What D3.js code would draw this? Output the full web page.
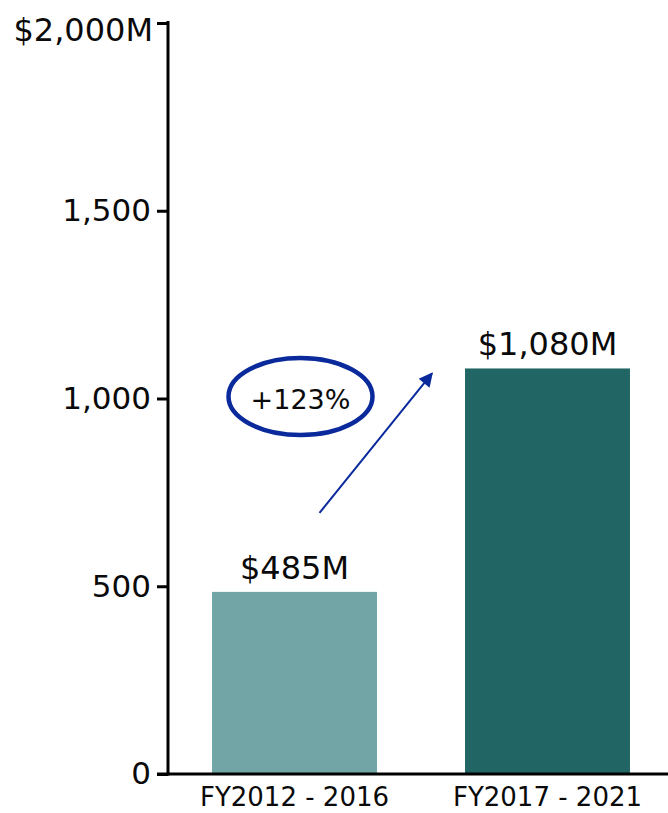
<!DOCTYPE html>
<html>
<head>
<meta charset="utf-8">
<script src="https://cdn.jsdelivr.net/npm/d3@7"></script>
<style>
  html, body { margin: 0; padding: 0; background: #fff; }
  svg { display: block; font-family: "DejaVu Sans", Verdana, sans-serif; }
</style>
</head>
<body>
<svg id="chart" width="668" height="813"></svg>
<script>
// Funding totals by five-year period (millions of dollars)
const categories = ["FY2012 - 2016", "FY2017 - 2021"];
const values = [485, 1080];
const valueLabels = ["$485M", "$1,080M"];
const barColors = ["#72a6a6", "#216664"];
const tickValues = [0, 500, 1000, 1500, 2000];
const tickLabels = ["0", "500", "1,000", "1,500", "$2,000M"];
const growthLabel = "+123%";

const width = 668, height = 813;
const margin = { top: 23, right: 0, bottom: 39, left: 168 };

const svg = d3.select("#chart");

const x = d3.scaleBand()
  .domain(categories)
  .range([margin.left, margin.left + 506])
  .paddingInner(0.348)
  .paddingOuter(0.174);

const y = d3.scaleLinear()
  .domain([0, 2000])
  .range([height - margin.bottom, margin.top]);

// Bars
svg.append("g")
  .selectAll("rect")
  .data(values)
  .join("rect")
  .attr("x", (d, i) => x(categories[i]))
  .attr("y", d => y(d))
  .attr("width", x.bandwidth())
  .attr("height", d => y(0) - y(d))
  .attr("fill", (d, i) => barColors[i]);

// Value labels above bars
svg.append("g")
  .selectAll("text")
  .data(values)
  .join("text")
  .attr("x", (d, i) => x(categories[i]) + x.bandwidth() / 2)
  .attr("y", d => y(d) - 13)
  .attr("text-anchor", "middle")
  .attr("font-size", 32)
  .attr("fill", "#0a0a0a")
  .text((d, i) => valueLabels[i]);

// Y axis
const yAxis = d3.axisLeft(y)
  .tickValues(tickValues)
  .tickFormat((d, i) => tickLabels[i])
  .tickSize(11)
  .tickPadding(6);

const gy = svg.append("g")
  .attr("transform", `translate(${margin.left},0)`)
  .call(yAxis);
gy.select(".domain").attr("stroke", "#000").attr("stroke-width", 3)
  .attr("d", `M0,${y(2000) - 2}V${y(0) + 1.5}`);
gy.selectAll(".tick line").attr("stroke", "#000").attr("stroke-width", 3);
gy.selectAll(".tick text")
  .attr("font-size", 31)
  .attr("font-family", "DejaVu Sans, Verdana, sans-serif")
  .attr("fill", "#0a0a0a");
// Top label carries the unit and sits just below its tick
gy.selectAll(".tick text")
  .filter(d => d === 2000)
  .attr("font-size", 32)
  .attr("dx", 2)
  .attr("dy", "0.55em");

// X axis
const xAxis = d3.axisBottom(x).tickSize(0).tickPadding(14);
const gx = svg.append("g")
  .attr("transform", `translate(0,${y(0)})`)
  .call(xAxis);
gx.select(".domain").attr("stroke", "#000").attr("stroke-width", 3)
  .attr("d", `M${margin.left - 11},0H${width}`);
gx.selectAll(".tick text")
  .attr("font-size", 26)
  .attr("font-family", "DejaVu Sans, Verdana, sans-serif")
  .attr("fill", "#0a0a0a");

// Growth annotation: ellipse with percentage
const annoX = x(categories[0]) + x.bandwidth() / 2 + 6;
const annoY = y(1000) - 2;
svg.append("ellipse")
  .attr("cx", annoX)
  .attr("cy", annoY)
  .attr("rx", 72)
  .attr("ry", 38.5)
  .attr("fill", "none")
  .attr("stroke", "#0a2a9c")
  .attr("stroke-width", 4.5);
svg.append("text")
  .attr("x", annoX)
  .attr("y", annoY + 12)
  .attr("text-anchor", "middle")
  .attr("font-size", 27)
  .attr("fill", "#0a0a0a")
  .text(growthLabel);

// Arrow from first bar toward second bar
svg.append("defs").append("marker")
  .attr("id", "arrowhead")
  .attr("viewBox", "0 0 10 10")
  .attr("refX", 9)
  .attr("refY", 5)
  .attr("markerWidth", 8)
  .attr("markerHeight", 7)
  .attr("markerUnits", "strokeWidth")
  .attr("orient", "auto")
  .append("path")
  .attr("d", "M0,0L10,5L0,10Z")
  .attr("fill", "#0a2a9c");

svg.append("line")
  .attr("x1", x(categories[0]) + x.bandwidth() / 2 + 25)
  .attr("y1", y(values[0]) - 79)
  .attr("x2", x(categories[1]) - 33)
  .attr("y2", y(values[1]) + 5)
  .attr("stroke", "#0a2a9c")
  .attr("stroke-width", 2)
  .attr("marker-end", "url(#arrowhead)");
</script>
</body>
</html>
